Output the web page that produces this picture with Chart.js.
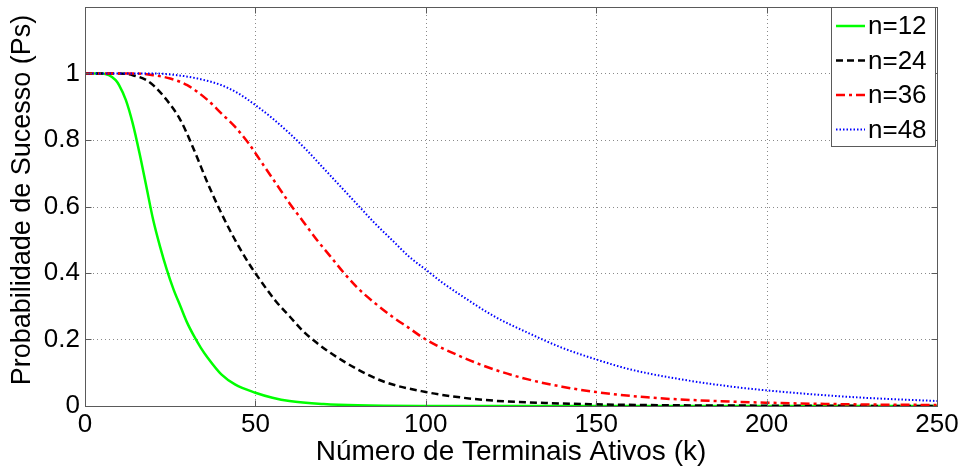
<!DOCTYPE html>
<html><head><meta charset="utf-8">
<script src="https://cdn.jsdelivr.net/npm/chart.js@4"></script>
<style>html,body{margin:0;padding:0;background:#fff;}#wrap{width:965px;height:474px;}</style>
</head><body><div id="wrap"><canvas id="c" width="965" height="474"></canvas></div>
<script>
const seriesNames = ['n=12', 'n=24', 'n=36', 'n=48'];

const k12 = [0,5,7,9,10,12,14,16,18,20,22,24,26,28,30,32,34,36,40,44,50,55,60,70,80,100,150,250];
const ps12 = [1,1,0.995,0.98,0.965,0.92,0.85,0.76,0.66,0.56,0.48,0.41,0.35,0.30,0.25,0.21,0.175,0.145,0.095,0.065,0.04,0.025,0.015,0.006,0.002,0.0003,0,0];

const k24 = [0,10,14,18,20,24,28,32,36,40,44,48,52,56,60,64,68,72,80,88,100,110,120,135,150,175,200,250];
const ps24 = [1,1,0.995,0.98,0.965,0.92,0.86,0.77,0.67,0.58,0.50,0.43,0.37,0.315,0.27,0.225,0.19,0.16,0.11,0.072,0.042,0.026,0.016,0.009,0.005,0.002,0.001,0];

const k36 = [0,15,20,25,30,36,40,44,48,52,56,60,64,68,72,76,80,85,90,95,100,110,120,130,140,150,165,180,200,225,250];
const ps36 = [1,1,0.995,0.985,0.965,0.92,0.88,0.84,0.79,0.73,0.67,0.61,0.555,0.50,0.45,0.40,0.355,0.31,0.27,0.235,0.20,0.15,0.11,0.08,0.058,0.042,0.026,0.017,0.01,0.005,0.003];

const k48 = [0,20,27,33,40,45,50,55,60,65,70,75,80,85,90,95,100,105,110,120,130,140,150,160,175,190,200,215,230,250];
const ps48 = [1,1,0.995,0.985,0.965,0.94,0.905,0.865,0.82,0.77,0.715,0.66,0.605,0.55,0.50,0.45,0.41,0.37,0.335,0.27,0.22,0.175,0.14,0.11,0.08,0.058,0.047,0.034,0.024,0.015];

const xTicks = [0, 50, 100, 150, 200, 250];
const yTicks = [0, 0.2, 0.4, 0.6, 0.8, 1];
const xTitle = 'Número de Terminais Ativos (k)';
const yTitle = 'Probabilidade de Sucesso (Ps)';

const FONT = "'Liberation Sans', Arial, sans-serif";
function pts(ks, ps) { return ks.map((k, i) => ({x: k, y: ps[i]})); }

const datasets = [
  {label: seriesNames[0], data: pts(k12, ps12), borderColor: '#00ff00', borderWidth: 2.5, borderDash: [], order: 4},
  {label: seriesNames[1], data: pts(k24, ps24), borderColor: '#000000', borderWidth: 2.5, borderDash: [7, 4], order: 3},
  {label: seriesNames[2], data: pts(k36, ps36), borderColor: '#ff0000', borderWidth: 2.5, borderDash: [9, 4, 3, 4], order: 2},
  {label: seriesNames[3], data: pts(k48, ps48), borderColor: '#0000ff', borderWidth: 2, borderDash: [1.5, 2], order: 1}
].map(d => Object.assign(d, {pointRadius: 0, fill: false, cubicInterpolationMode: 'monotone'}));

const framePlugin = {
  id: 'frame',
  beforeDraw(chart) {
    const ctx = chart.ctx;
    ctx.save(); ctx.fillStyle = '#fff'; ctx.fillRect(0, 0, chart.width, chart.height); ctx.restore();
  },
  beforeDatasetsDraw(chart) {
    const {ctx, chartArea: a, scales} = chart;
    ctx.save();
    ctx.strokeStyle = '#8a8a8a'; ctx.lineWidth = 1; ctx.setLineDash([1, 3]);
    xTicks.forEach(v => {
      const x = Math.round(scales.x.getPixelForValue(v)) + 0.5;
      if (v === xTicks[0] || v === xTicks[xTicks.length - 1]) return;
      ctx.beginPath(); ctx.moveTo(x, a.top); ctx.lineTo(x, a.bottom); ctx.stroke();
    });
    yTicks.forEach(v => {
      if (v === 0) return;
      const y = Math.round(scales.y.getPixelForValue(v)) + 0.5;
      ctx.beginPath(); ctx.moveTo(a.left, y); ctx.lineTo(a.right, y); ctx.stroke();
    });
    ctx.restore();
  },
  afterDatasetsDraw(chart) {
    const {ctx, chartArea: a, scales} = chart;
    ctx.save();
    ctx.strokeStyle = '#5a5a5a'; ctx.lineWidth = 1; ctx.setLineDash([]);
    const L = Math.round(a.left) + 0.5, R = Math.round(a.right) + 0.5, T = Math.round(a.top) + 0.5, B = Math.round(a.bottom) + 0.5;
    ctx.strokeRect(L, T, R - L, B - T);
    const tl = 6;
    ctx.beginPath();
    xTicks.forEach(v => {
      const x = Math.round(scales.x.getPixelForValue(v)) + 0.5;
      ctx.moveTo(x, B); ctx.lineTo(x, B - tl);
      ctx.moveTo(x, T); ctx.lineTo(x, T + tl);
    });
    yTicks.forEach(v => {
      const y = Math.round(scales.y.getPixelForValue(v)) + 0.5;
      ctx.moveTo(L, y); ctx.lineTo(L + tl, y);
      ctx.moveTo(R, y); ctx.lineTo(R - tl, y);
    });
    ctx.stroke();
    ctx.restore();
  },
  afterDraw(chart) {
    const ctx = chart.ctx;
    ctx.save();
    // y axis title
    ctx.fillStyle = '#000'; ctx.font = '27px ' + FONT; ctx.textAlign = 'center'; ctx.textBaseline = 'middle';
    ctx.translate(22.5, 200); ctx.rotate(-Math.PI / 2);
    ctx.fillText(yTitle, 0, 0);
    ctx.restore();

    ctx.save();
    const bx = 831.5, by = 7.5, bw = 104, bh = 139;
    ctx.fillStyle = '#fff'; ctx.fillRect(bx, by, bw, bh);
    ctx.strokeStyle = '#5a5a5a'; ctx.lineWidth = 1; ctx.setLineDash([]);
    ctx.strokeRect(bx, by, bw, bh);
    chart.data.datasets.forEach((d, i) => {
      const y = 26 + i * 34.5;
      ctx.strokeStyle = d.borderColor; ctx.lineWidth = d.borderWidth; ctx.setLineDash(d.borderDash);
      ctx.beginPath(); ctx.moveTo(836, y); ctx.lineTo(865, y); ctx.stroke();
      ctx.setLineDash([]);
      ctx.fillStyle = '#000'; ctx.font = '26px ' + FONT; ctx.textBaseline = 'middle'; ctx.textAlign = 'left';
      ctx.fillText(d.label, 868, y + 1);
    });
    ctx.restore();
  }
};

new Chart(document.getElementById('c'), {
  type: 'line',
  data: {datasets},
  options: {
    responsive: false, devicePixelRatio: 1, animation: false,
    layout: {padding: {top: 7, right: 28, left: 0, bottom: 0}},
    plugins: {legend: {display: false}, tooltip: {enabled: false}},
    scales: {
      x: {
        type: 'linear', min: 0, max: 250,
        afterBuildTicks(s) { s.ticks = xTicks.map(v => ({value: v})); },
        afterFit(s) { s.height = 68; s.paddingLeft = 0; s.paddingRight = 0; },
        grid: {display: false, drawTicks: false}, border: {display: false},
        ticks: {color: '#000', font: {family: FONT, size: 26}, padding: 3, maxRotation: 0, autoSkip: false},
        title: {display: true, text: xTitle, color: '#000', font: {family: FONT, size: 28}, padding: {top: 0, bottom: 5}}
      },
      y: {
        type: 'linear', min: 0, max: 1.2,
        afterBuildTicks(s) { s.ticks = yTicks.map(v => ({value: v})); },
        afterFit(s) { s.width = 85; s.paddingTop = 0; s.paddingBottom = 0; },
        grid: {display: false, drawTicks: false}, border: {display: false},
        ticks: {color: '#000', font: {family: FONT, size: 26}, padding: 5, autoSkip: false,
          callback: v => String(Math.round(v * 10) / 10)},
        title: {display: false}
      }
    }
  },
  plugins: [framePlugin]
});
</script></body></html>
